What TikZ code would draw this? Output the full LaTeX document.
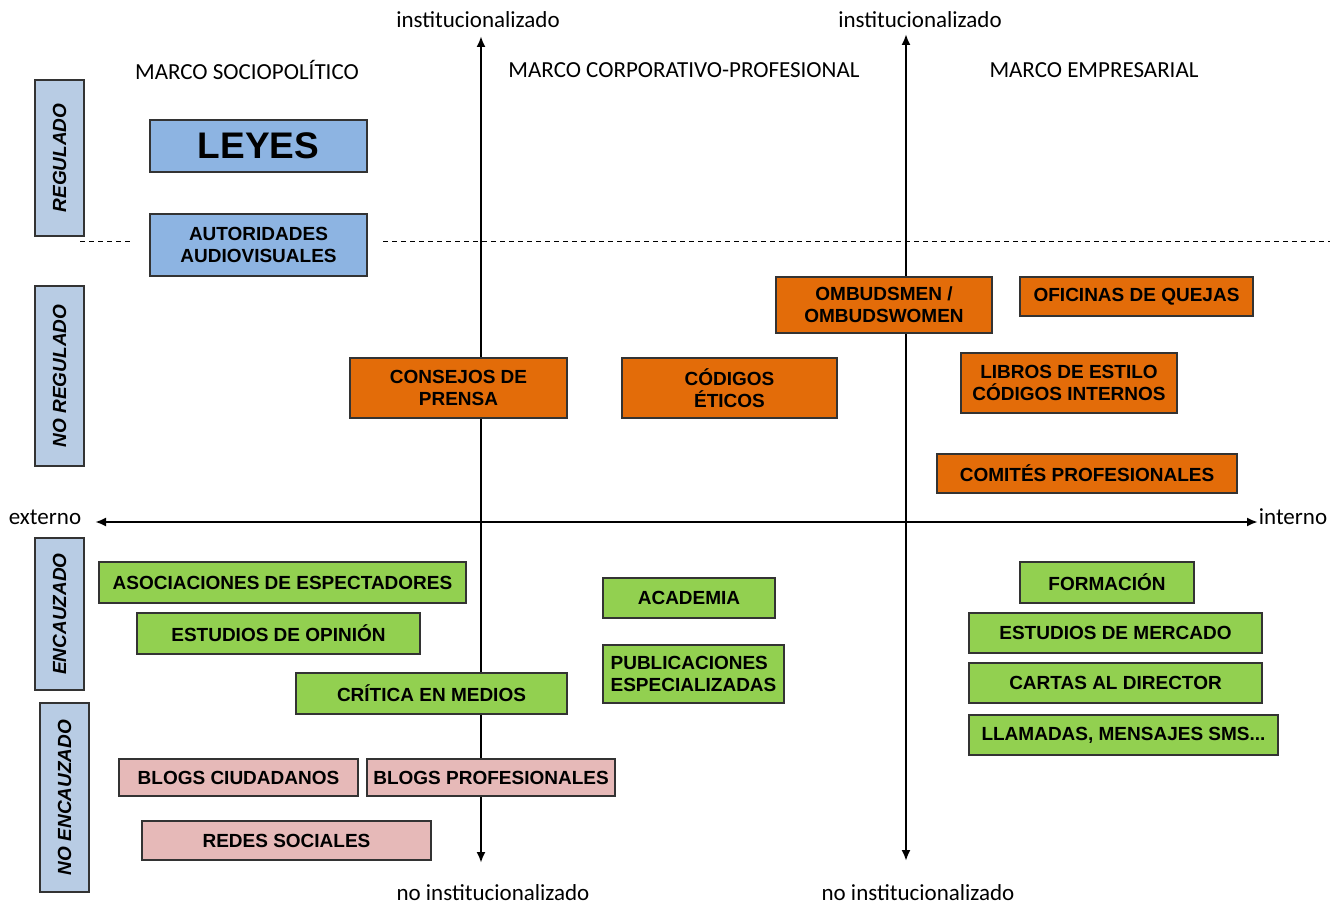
\documentclass[tikz,border=0pt]{standalone}
\usepackage{fontspec}
\usetikzlibrary{arrows.meta}
\setmainfont{Liberation Sans}
\newfontfamily\headfont{Carlito}
\definecolor{sideblue}{HTML}{B8CCE4}
\definecolor{lawblue}{HTML}{8DB4E2}
\definecolor{selforange}{HTML}{E36C09}
\definecolor{chgreen}{HTML}{92D050}
\definecolor{netpink}{HTML}{E6B9B8}
\begin{document}
\begin{tikzpicture}[x=1pt, y=-1pt,
  every node/.style={inner sep=0pt},
  box/.style={draw=black!80, line width=1.5pt, align=center,
    font=\fontsize{19}{22}\selectfont\bfseries},
  sidebox/.style={box, fill=sideblue, rotate=90, minimum height=49,
    font=\fontsize{19}{22}\selectfont\bfseries\itshape},
  lawbox/.style={box, fill=lawblue},
  selfbox/.style={box, fill=selforange},
  chbox/.style={box, fill=chgreen},
  netbox/.style={box, fill=netpink},
  head/.style={font=\headfont\fontsize{23}{26}\selectfont},
  axis/.style={line width=2.8pt, {Latex[length=11pt,width=9pt]}-{Latex[length=11pt,width=9pt]}}]
  \useasboundingbox (0,0) rectangle (1342,907);

  % axes
  \coordinate (v1top) at (481,36);
  \coordinate (v1bot) at (481,863);
  \coordinate (v2top) at (906,34);
  \coordinate (v2bot) at (906,861);
  \coordinate (hleft) at (95,522);
  \coordinate (hright) at (1258,522);
  \draw[axis] (v1top) -- (v1bot);
  \draw[axis] (v2top) -- (v2bot);
  \draw[axis] (hleft) -- (hright);
  \node[head] (inst1) at (478,20) {institucionalizado};
  \node[head] (inst2) at (920,20) {institucionalizado};
  \node[head] (noinst1) at (493,893) {no institucionalizado};
  \node[head] (noinst2) at (918,893) {no institucionalizado};
  \node[head] (ext) at (45,517) {externo};
  \node[head] (int) at (1293,517) {interno};

  % regulation limit
  \draw[dash pattern=on 5pt off 4pt, line width=0.8pt] (80,241) -- (133,241);
  \draw[dash pattern=on 5pt off 4pt, line width=0.8pt] (383,241) -- (1330,241);

  % frames
  \node[head] (socio) at (247,70) {MARCO SOCIOPOLÍTICO};
  \node[head] (corp) at (684,70) {MARCO CORPORATIVO-PROFESIONAL};
  \node[head] (emp) at (1094,70) {MARCO EMPRESARIAL};

  % side labels
  \node[sidebox, minimum width=156] (reg) at (59.5,158) {REGULADO};
  \node[sidebox, minimum width=180] (noreg) at (59.5,376) {NO REGULADO};
  \node[sidebox, minimum width=152] (enc) at (59.5,614) {ENCAUZADO};
  \node[sidebox, minimum width=189] (noenc) at (64.5,797.5) {NO ENCAUZADO};

  % regulated
  \node[lawbox, minimum width=217, minimum height=52,
    font=\fontsize{37}{40}\selectfont\bfseries] (leyes) at (258.5,146) {LEYES};
  \node[lawbox, minimum width=217, minimum height=62] (autoridades) at (258.5,245)
    {AUTORIDADES\\AUDIOVISUALES};

  % not regulated
  \node[selfbox, minimum width=216, minimum height=56] (ombud) at (884,305)
    {OMBUDSMEN /\\OMBUDSWOMEN};
  \node[selfbox, minimum width=233, minimum height=39] (oficinas) at (1136.5,296.5)
    {OFICINAS DE QUEJAS};
  \node[selfbox, minimum width=217, minimum height=60] (consejos) at (458.5,388)
    {CONSEJOS DE\\PRENSA};
  \node[selfbox, minimum width=215, minimum height=60] (codigos) at (729.5,388)
    {CÓDIGOS\\ÉTICOS};
  \node[selfbox, minimum width=216, minimum height=60] (libros) at (1069,383)
    {LIBROS DE ESTILO\\CÓDIGOS INTERNOS};
  \node[selfbox, minimum width=300, minimum height=39] (comites) at (1087,473.5)
    {COMITÉS PROFESIONALES};

  % channelled
  \node[chbox, minimum width=367, minimum height=41] (asociaciones) at (282.5,582.5)
    {ASOCIACIONES DE ESPECTADORES};
  \node[chbox, minimum width=283, minimum height=41] (opinion) at (278.5,633.5)
    {ESTUDIOS DE OPINIÓN};
  \node[chbox, minimum width=271, minimum height=41] (critica) at (431.5,693.5)
    {CRÍTICA EN MEDIOS};
  \node[chbox, minimum width=172, minimum height=40] (academia) at (689,598)
    {ACADEMIA};
  \node[chbox, minimum width=181, minimum height=58, align=left] (publicaciones) at (693.5,674)
    {PUBLICACIONES\\ESPECIALIZADAS};
  \node[chbox, minimum width=174, minimum height=41] (formacion) at (1107,582.5)
    {FORMACIÓN};
  \node[chbox, minimum width=293, minimum height=40] (mercado) at (1115.5,633)
    {ESTUDIOS DE MERCADO};
  \node[chbox, minimum width=293, minimum height=40] (cartas) at (1115.5,683)
    {CARTAS AL DIRECTOR};
  \node[chbox, minimum width=309, minimum height=40] (llamadas) at (1123.5,735)
    {LLAMADAS, MENSAJES SMS...};

  % not channelled
  \node[netbox, minimum width=239, minimum height=37] (blogsciud) at (238.5,777.5)
    {BLOGS CIUDADANOS};
  \node[netbox, minimum width=248, minimum height=37] (blogsprof) at (491,777.5)
    {BLOGS PROFESIONALES};
  \node[netbox, minimum width=289, minimum height=39] (redes) at (286.5,840.5)
    {REDES SOCIALES};
\end{tikzpicture}
\end{document}
